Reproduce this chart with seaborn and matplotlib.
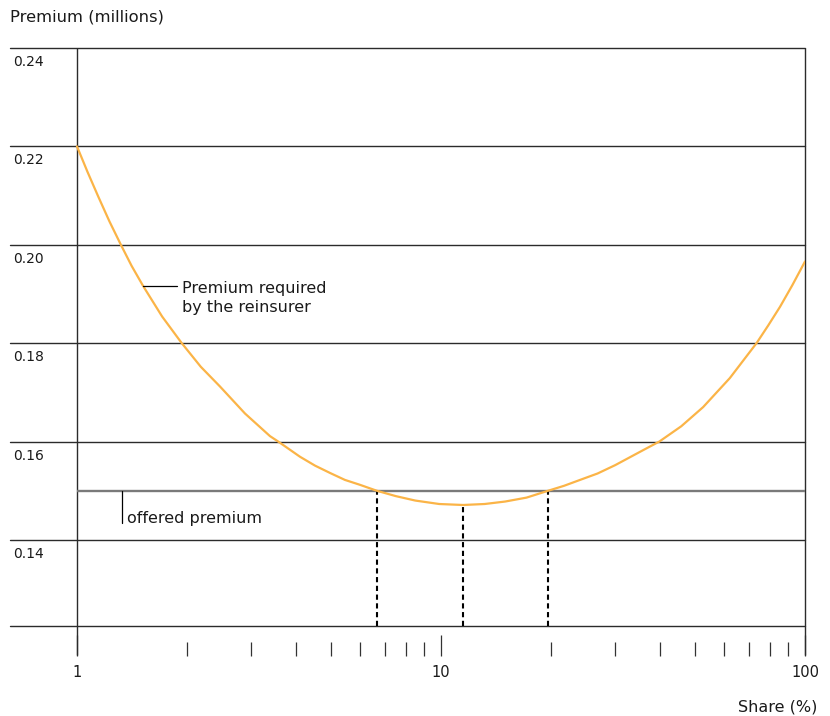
import matplotlib
matplotlib.use("Agg")
import matplotlib.pyplot as plt
import matplotlib.ticker as mticker
import matplotlib.transforms as mtrans
import seaborn as sns

# ---- data ----
share = [1.00, 1.069, 1.144, 1.227, 1.32, 1.413, 1.52, 1.714, 1.94, 2.188, 2.47,
         2.894, 3.39, 3.57, 4.10, 4.508, 4.96, 5.445, 5.99, 6.66, 7.516, 8.5,
         9.886, 11.5, 13.18, 15.0, 17.18, 19.7, 21.78, 24.1, 26.92, 30.1, 35.2,
         39.8, 45.71, 52.5, 62.16, 73.6, 79.25, 85.4, 92.33, 100.0]
premium = [0.2200, 0.2148, 0.2098, 0.2048, 0.2000, 0.1957, 0.1916, 0.1854, 0.1800,
           0.1752, 0.1712, 0.1657, 0.1611, 0.1600, 0.1569, 0.1551, 0.1536, 0.1522,
           0.1512, 0.1500, 0.1489, 0.1480, 0.1473, 0.1471, 0.1473, 0.1478, 0.1486,
           0.1500, 0.1510, 0.1522, 0.1535, 0.1552, 0.1579, 0.1600, 0.1631, 0.1670,
           0.1729, 0.1800, 0.1836, 0.1874, 0.1918, 0.1966]
offered_premium = 0.15
crossing_shares = [6.66, 11.5, 19.7]
crossing_tops = [0.15, 0.1471, 0.15]
y_grid = [0.14, 0.16, 0.18, 0.20, 0.22, 0.24]
y_labels = ["0.14", "0.16", "0.18", "0.20", "0.22", "0.24"]
x_major = [1, 10, 100]
x_major_labels = ["1", "10", "100"]
x_minor = [2, 3, 4, 5, 6, 7, 8, 9, 20, 30, 40, 50, 60, 70, 80, 90]

sns.set_theme(style="white")
plt.rcParams["font.family"] = ["DejaVu Sans"]

W, H = 830, 716
fig = plt.figure(figsize=(W / 100, H / 100), dpi=100)
ax = fig.add_axes([10 / W, 1 - 626 / H, 795 / W, 578 / H])

ymin, ymax = 0.1225, 0.24
xmin, xmax = 0.6546, 100
ax.set_xscale("log")
ax.set_xlim(xmin, xmax)
ax.set_ylim(ymin, ymax)

line_col = "#2b2b2b"
# horizontal grid lines (full width)
for v in y_grid:
    ax.axhline(v, color=line_col, lw=1.0, clip_on=False, zorder=1)
ax.axhline(ymin, color=line_col, lw=1.0, clip_on=False, zorder=1)

# offered premium line
ax.hlines(offered_premium, x_major[0], x_major[-1], color="#7a7a7a", lw=1.7, zorder=2)

# vertical frame lines at 1 and 100
ax.vlines([x_major[0], x_major[-1]], 0.1166, ymax, color=line_col, lw=1.0,
          clip_on=False, zorder=1)

# dashed verticals
ax.vlines(crossing_shares, ymin, crossing_tops, color="black", lw=1.5,
          linestyles=(0, (2.5, 1.7)), zorder=2)

# curve
sns.lineplot(x=share, y=premium, ax=ax, color="#FBB447", lw=1.6, sort=False,
             estimator=None, zorder=3)
for ln in ax.get_lines():
    ln.set_solid_joinstyle("round")

# spines / ticks
for s in ["left", "right", "top"]:
    ax.spines[s].set_visible(False)
ax.spines["bottom"].set_position(("outward", 30 * 0.72))
ax.spines["bottom"].set_visible(False)
ax.set_yticks([])
ax.xaxis.set_major_locator(mticker.FixedLocator(x_major))
ax.xaxis.set_major_formatter(mticker.FixedFormatter(x_major_labels))
ax.xaxis.set_minor_locator(mticker.FixedLocator(x_minor))
ax.xaxis.set_minor_formatter(mticker.NullFormatter())
ax.tick_params(axis="x", which="both", bottom=True, direction="in",
               color="#333333", width=0.9, labelsize=10.5, labelcolor="#1a1a1a")
ax.tick_params(axis="x", which="major", length=15, pad=6.5)
ax.tick_params(axis="x", which="minor", length=10)

# y labels inside the plot
blend = mtrans.blended_transform_factory(ax.transAxes, ax.transData)
for v, lab in zip(y_grid, y_labels):
    ax.annotate(lab, xy=(3 / 795, v), xycoords=blend, xytext=(0, -18),
                textcoords="offset pixels", ha="left", va="baseline",
                fontsize=10, color="#1a1a1a")

# annotations
ax.plot([1.515, 1.883], [0.1916, 0.1916], color="black", lw=0.9, zorder=4)
ax.text(1.944, 0.1864, "Premium required\nby the reinsurer", ha="left",
        va="baseline", fontsize=11.5, color="#1a1a1a", linespacing=1.3)
ax.plot([1.329, 1.329], [offered_premium, 0.14345], color="black", lw=0.9, zorder=4)
ax.text(1.372, 0.14345, "offered premium", ha="left", va="baseline",
        fontsize=11.5, color="#1a1a1a")

fig.text(10 / W, 1 - 21 / H, "Premium (millions)", ha="left", va="baseline",
         fontsize=11.8, color="#1a1a1a")
fig.text(817 / W, 1 - 711 / H, "Share (%)", ha="right", va="baseline",
         fontsize=11.5, color="#1a1a1a")

fig.savefig("out.png", dpi=100)
